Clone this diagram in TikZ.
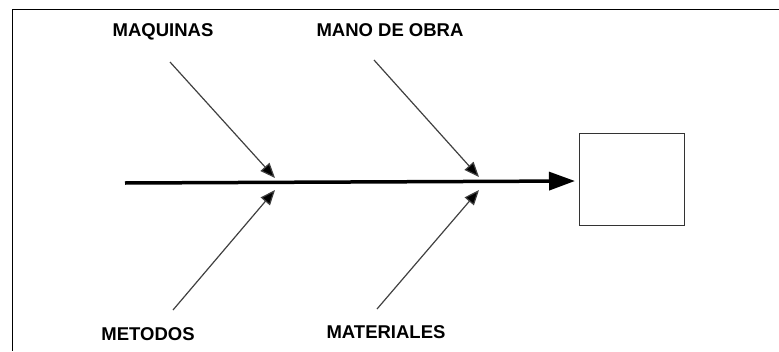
\documentclass[tikz,border=0pt]{standalone}
\usepackage{fontspec}
\setmainfont{Liberation Sans}
\usetikzlibrary{arrows.meta}

\begin{document}
\begin{tikzpicture}[x=1pt,y=-1pt,
	cause/.style={font=\fontsize{18.5}{21}\selectfont\bfseries,inner sep=0pt},
	rib/.style={line width=1.2pt,draw=black!75,-{Triangle[length=15pt,width=12pt,fill=black]}},
	spine/.style={line width=3.5pt,-{Triangle[length=26pt,width=18pt]}}]
	\useasboundingbox (0,0) rectangle (779,351);
	\draw[line width=1pt] (779,9) -- (12,9) -- (12,351);

	\node[cause] (maq) at (163,32)  {MAQUINAS};
	\node[cause] (mano) at (390,30) {MANO DE OBRA};
	\node[cause] (met) at (148,334) {METODOS};
	\node[cause] (mat) at (386,332) {MATERIALES};
	\node[draw=black!80,line width=1pt,minimum width=105pt,minimum height=92pt] (efecto) at (631.5,179.5) {};

	\coordinate (tail) at (125,183);
	\coordinate (head) at (575,181);
	\coordinate (maqA) at (170,62);
	\coordinate (maqB) at (275,178);
	\coordinate (metA) at (173,310);
	\coordinate (metB) at (275,190);
	\coordinate (manoA) at (374,60);
	\coordinate (manoB) at (479,177);
	\coordinate (matA) at (377,309);
	\coordinate (matB) at (479,190);

	\draw[spine] (tail) -- (head);
	\draw[rib] (maqA) -- (maqB);
	\draw[rib] (metA) -- (metB);
	\draw[rib] (manoA) -- (manoB);
	\draw[rib] (matA) -- (matB);
\end{tikzpicture}
\end{document}
